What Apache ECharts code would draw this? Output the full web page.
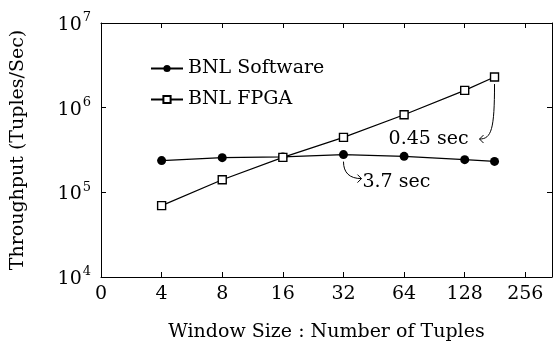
<!DOCTYPE html>
<html>
<head>
<meta charset="utf-8">
<script src="https://cdn.jsdelivr.net/npm/echarts@6/dist/echarts.min.js"></script>
<style>
  html, body { margin: 0; padding: 0; background: #fff; }
  #chart { width: 553px; height: 345px; }
</style>
</head>
<body>
<div id="chart"></div>
<script>
// Window sizes (tuples) and measured throughput (tuples/sec)
const windowSizes = [4, 8, 16, 32, 64, 128, 180];
const softwareThroughput = [2.37e5, 2.57e5, 2.62e5, 2.79e5, 2.66e5, 2.43e5, 2.32e5];
const fpgaThroughput = [6.97e4, 1.41e5, 2.59e5, 4.46e5, 8.26e5, 1.60e6, 2.30e6];
const seriesNames = ['BNL Software', 'BNL FPGA'];
// x ticks sit at powers of two; the leftmost one is labelled 0
const xTickLabels = ['0', '4', '8', '16', '32', '64', '128', '256'];
// runtime callouts: attached to a series point
const callouts = [
  { text: '0.45 sec', series: 1, index: 6 },
  { text: '3.7 sec', series: 0, index: 3 }
];

const FONT = 'DejaVu Serif';
const FS = 19;

const toXY = (vals) => windowSizes.map((w, i) => [Math.log2(w), vals[i]]);

const chart = echarts.init(document.getElementById('chart'), null, { renderer: 'canvas' });

const lineAxis = { show: true, lineStyle: { color: '#000', width: 1 } };
const tickIn = { show: true, inside: true, length: 5, lineStyle: { color: '#000', width: 1 } };

const xBase = {
  type: 'value', min: 1, max: 8.44, interval: 1,
  axisLine: lineAxis, axisTick: tickIn, splitLine: { show: false }
};
const yBase = {
  type: 'log', logBase: 10, min: 1e4, max: 1e7,
  axisLine: lineAxis, axisTick: tickIn, splitLine: { show: false }, minorTick: { show: false }
};

chart.setOption({
  animation: false,
  backgroundColor: '#fff',
  textStyle: { fontFamily: FONT },
  grid: { left: 101, right: 1, top: 23, bottom: 68, containLabel: false, outerBoundsMode: 'none' },
  legend: {
    orient: 'vertical', left: 145, top: 54,
    itemWidth: 32, itemHeight: 9, itemGap: 12,
    textStyle: { fontFamily: FONT, fontSize: FS, color: '#000' },
    data: seriesNames
  },
  xAxis: [
    Object.assign({}, xBase, {
      position: 'bottom',
      name: 'Window Size : Number of Tuples', nameLocation: 'middle', nameGap: 46,
      nameTextStyle: { fontFamily: FONT, fontSize: FS, color: '#000' },
      axisLabel: {
        fontFamily: FONT, fontSize: FS, color: '#000', margin: 8,
        showMaxLabel: false,
        formatter: (v) => xTickLabels[Math.round(v) - 1] !== undefined && Math.abs(v - Math.round(v)) < 1e-6 ? xTickLabels[Math.round(v) - 1] : ''
      }
    }),
    Object.assign({}, xBase, { position: 'top', axisLabel: { show: false } })
  ],
  yAxis: [
    Object.assign({}, yBase, {
      position: 'left',
      name: 'Throughput (Tuples/Sec)', nameLocation: 'middle', nameGap: 73,
      nameTextStyle: { fontFamily: FONT, fontSize: FS, color: '#000' },
      axisLabel: {
        margin: 10, color: '#000',
        formatter: (v) => '{b|10}{s|' + Math.round(Math.log10(v)) + '}',
        rich: {
          b: { fontFamily: FONT, fontSize: FS, color: '#000', verticalAlign: 'bottom' },
          s: { fontFamily: FONT, fontSize: 13, color: '#000', verticalAlign: 'top', padding: [0, 0, 10, 1] }
        }
      }
    }),
    Object.assign({}, yBase, { position: 'right', axisLabel: { show: false } })
  ],
  series: [
    {
      name: seriesNames[0], type: 'line', xAxisIndex: 0, yAxisIndex: 0,
      data: toXY(softwareThroughput),
      symbol: 'circle', symbolSize: 9,
      lineStyle: { color: '#000', width: 1.2 },
      itemStyle: { color: '#000', borderColor: '#000', borderWidth: 0 }
    },
    {
      name: seriesNames[1], type: 'line', xAxisIndex: 0, yAxisIndex: 0,
      data: toXY(fpgaThroughput),
      symbol: 'rect', symbolSize: 8,
      lineStyle: { color: '#000', width: 1.2 },
      itemStyle: { color: '#fff', borderColor: '#000', borderWidth: 1.4 }
    }
  ]
});

// Callout arrows and texts, placed relative to their data points
const seriesValues = [softwareThroughput, fpgaThroughput];
const graphics = [];
const stroke = { stroke: '#000', lineWidth: 1, fill: null };

{
  const c = callouts[0];
  const p = chart.convertToPixel({ gridIndex: 0 }, [Math.log2(windowSizes[c.index]), seriesValues[c.series][c.index]]);
  const sx = p[0], sy = p[1] + 7;
  const ex = p[0] - 15, ey = p[1] + 62;
  graphics.push({
    type: 'bezierCurve', silent: true,
    shape: { x1: sx, y1: sy, cpx1: sx, cpy1: ey - 10, cpx2: sx - 3, cpy2: ey, x2: ex, y2: ey },
    style: stroke
  });
  graphics.push({
    type: 'polyline', silent: true,
    shape: { points: [[ex + 4, ey - 4], [ex, ey], [ex + 4, ey + 4]] },
    style: stroke
  });
  graphics.push({
    type: 'text', silent: true,
    style: { text: c.text, x: ex - 11, y: ey, align: 'right', verticalAlign: 'middle', font: FS + 'px "' + FONT + '"', fill: '#000' }
  });
}
{
  const c = callouts[1];
  const p = chart.convertToPixel({ gridIndex: 0 }, [Math.log2(windowSizes[c.index]), seriesValues[c.series][c.index]]);
  const sx = p[0], sy = p[1] + 7;
  const ex = p[0] + 18, ey = p[1] + 24;
  graphics.push({
    type: 'bezierCurve', silent: true,
    shape: { x1: sx, y1: sy, cpx1: sx, cpy1: ey - 6, cpx2: sx + 6, cpy2: ey, x2: ex, y2: ey },
    style: stroke
  });
  graphics.push({
    type: 'polyline', silent: true,
    shape: { points: [[ex - 4, ey - 4], [ex, ey], [ex - 4, ey + 4]] },
    style: stroke
  });
  graphics.push({
    type: 'text', silent: true,
    style: { text: c.text, x: ex + 1, y: ey + 3, align: 'left', verticalAlign: 'middle', font: FS + 'px "' + FONT + '"', fill: '#000' }
  });
}
chart.setOption({ graphic: graphics });
</script>
</body>
</html>
